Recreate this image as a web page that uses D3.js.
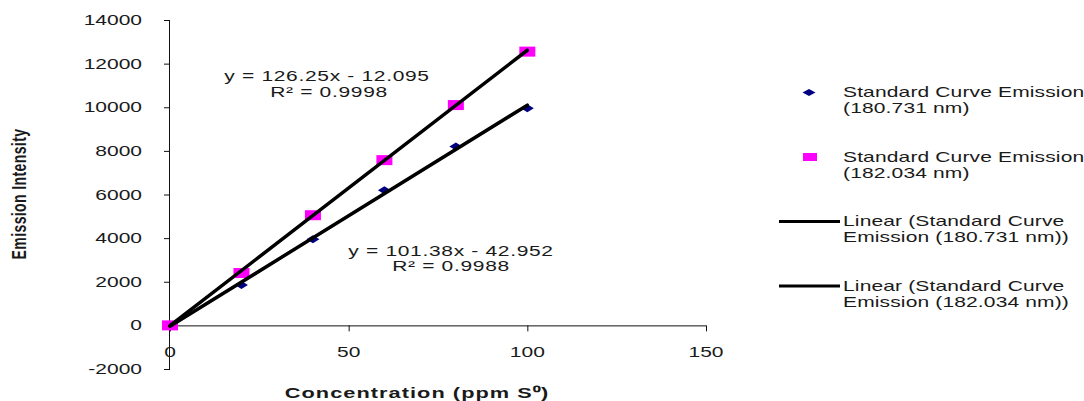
<!DOCTYPE html>
<html>
<head>
<meta charset="utf-8">
<script src="https://cdn.jsdelivr.net/npm/d3@7"></script>
<style>
  html, body { margin: 0; padding: 0; background: #fff; }
  svg { display: block; }
  text { font-family: "Liberation Sans", Arial, sans-serif; fill: #1a1a1a; }
</style>
</head>
<body>
<svg id="chart" width="1084" height="401"></svg>
<script>
// Concentration standards (ppm S0)
const concentrations = [0, 20, 40, 60, 80, 100];
// Measured emission intensity at each line
const emission180 = [0, 1850, 3950, 6200, 8200, 9950];
const emission182 = [0, 2400, 5050, 7575, 10100, 12550];
// Least-squares fits reported for each line
const fit180 = { slope: 101.38, intercept: -42.952, r2: "0.9988" };
const fit182 = { slope: 126.25, intercept: -12.095, r2: "0.9998" };
// Axis ticks
const xTicks = [0, 50, 100, 150];
const yTicks = [-2000, 0, 2000, 4000, 6000, 8000, 10000, 12000, 14000];
const legendLabels = [
  ["Standard Curve Emission", "(180.731 nm)"],
  ["Standard Curve Emission", "(182.034 nm)"],
  ["Linear (Standard Curve", "Emission (180.731 nm))"],
  ["Linear (Standard Curve", "Emission (182.034 nm))"]
];

const svg = d3.select("#chart");
const SX = 1.5;       // horizontal stretch of the exported figure
const FS = 14;

const x = d3.scaleLinear().domain([0, 150]).range([170, 706]);
const y = d3.scaleLinear().domain([-2000, 14000]).range([369, 20]);

// text drawn with the figure's horizontal stretch
function label(parent, px, py, str, anchor, opts = {}) {
  const g = parent.append("g")
    .attr("transform", `translate(${px},${py}) scale(${SX},1)` + (opts.rotate ? ` rotate(${opts.rotate})` : ""));
  return g.append("text")
    .attr("text-anchor", anchor || "start")
    .attr("font-size", opts.size || FS)
    .attr("font-weight", opts.bold ? "bold" : "normal")
    .attr("letter-spacing", opts.spacing || 0)
    .text(str);
}

// y axis
const yAxis = svg.append("g").attr("transform", `translate(${x(0)},0)`)
  .call(d3.axisLeft(y).tickValues(yTicks).tickSize(6).tickFormat(""));
yAxis.select(".domain").attr("d", `M-0.5,${y(14000)}V${y(-2000)}`).attr("stroke", "#111");
yAxis.selectAll(".tick line").attr("stroke", "#111");
yTicks.forEach(v => label(svg, 142, y(v) + 5, String(v), "end"));

// x axis along zero
const xAxis = svg.append("g").attr("transform", `translate(0,${y(0)})`)
  .call(d3.axisBottom(x).tickValues(xTicks).tickSize(6).tickFormat(""));
xAxis.select(".domain").attr("d", `M${x(0)},0.5H${x(150)}`).attr("stroke", "#111");
xAxis.selectAll(".tick line").attr("stroke", "#111");
xTicks.forEach(v => label(svg, x(v), 357, String(v), "middle"));

// axis titles
label(svg, 417, 397.5, "Concentration (ppm S\u2070)", "middle", { bold: true, size: 14.5, spacing: 0.7 });
label(svg, 26, 194, "Emission Intensity", "middle", { bold: true, rotate: -90, size: 14, spacing: 0.4 });

// markers
const pts180 = concentrations.map((c, i) => [c, emission180[i]]);
const pts182 = concentrations.map((c, i) => [c, emission182[i]]);
const diamond = (cx, cy, w, h) => `M${cx - w / 2},${cy}L${cx},${cy - h / 2}L${cx + w / 2},${cy}L${cx},${cy + h / 2}Z`;

svg.append("g").selectAll("path").data(pts180).join("path")
  .attr("d", d => diamond(x(d[0]), y(d[1]), 13, 8))
  .attr("fill", "#000080");
svg.append("g").selectAll("rect").data(pts182).join("rect")
  .attr("x", d => x(d[0]) - 8).attr("y", d => y(d[1]) - 5)
  .attr("width", 16).attr("height", 10)
  .attr("fill", "#ff00ff");

// trendlines from the fitted equations
[fit180, fit182].forEach(f => {
  svg.append("line")
    .attr("x1", x(0)).attr("y1", y(f.intercept))
    .attr("x2", x(100)).attr("y2", y(f.slope * 100 + f.intercept))
    .attr("stroke", "#000").attr("stroke-width", 3.5).attr("stroke-linecap", "round");
});

// equation annotations
const fmt = f => `y = ${f.slope}x - ${Math.abs(f.intercept)}`;
const eq = { spacing: 0.45 };
label(svg, 327, 80.5, fmt(fit182), "middle", eq);
label(svg, 329, 96.5, `R\u00b2 = ${fit182.r2}`, "middle", eq);
label(svg, 451, 255.5, fmt(fit180), "middle", eq);
label(svg, 451, 271, `R\u00b2 = ${fit180.r2}`, "middle", eq);

// legend
const lg = svg.append("g");
const entryY = [92.5, 157, 221.5, 286];
lg.append("path").attr("d", diamond(809, entryY[0], 13, 7)).attr("fill", "#000080");
lg.append("rect").attr("x", 803).attr("y", entryY[1] - 4).attr("width", 14).attr("height", 8).attr("fill", "#ff00ff");
[entryY[2], entryY[3]].forEach(ly => {
  lg.append("line").attr("x1", 779).attr("x2", 840).attr("y1", ly).attr("y2", ly)
    .attr("stroke", "#000").attr("stroke-width", 3);
});
legendLabels.forEach((lines, i) => {
  label(lg, 843, entryY[i] + 4.5, lines[0], "start", { spacing: 0.1 });
  label(lg, 843, entryY[i] + 20.5, lines[1], "start", { spacing: 0.1 });
});
</script>
</body>
</html>
